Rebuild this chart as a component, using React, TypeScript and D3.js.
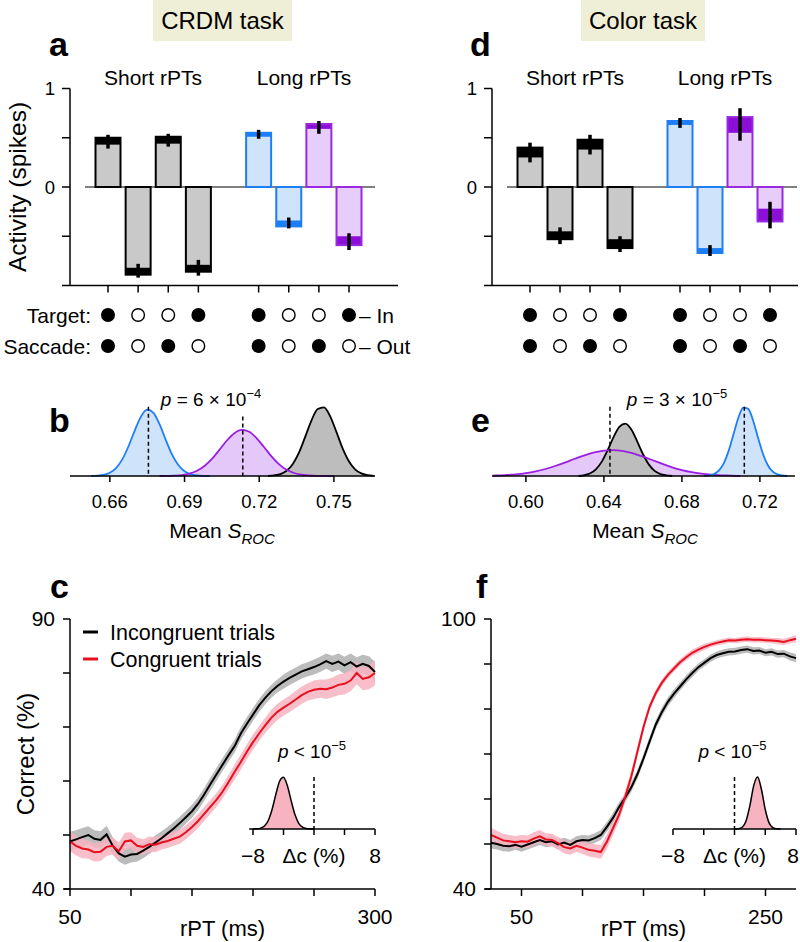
import React from 'react';
import * as d3 from 'd3';

const FONT = "'Liberation Sans', Arial, Helvetica, sans-serif";

// ---------- Panels a / d : bar data ----------
const barGroups = ['Short rPTs', 'Long rPTs'];
const slotIndex = [0, 1, 2, 3, 5, 6, 7, 8];
const barPalette = ['gray', 'gray', 'gray', 'gray', 'blue', 'blue', 'purple', 'purple'];
const targetIn = [1, 0, 0, 1, 1, 0, 0, 1];
const saccadeIn = [1, 0, 1, 0, 1, 0, 1, 0];

const crdmOuter = [0.50, -0.89, 0.51, -0.86, 0.55, -0.40, 0.64, -0.59];
const crdmInner = [0.43, -0.82, 0.44, -0.79, 0.51, -0.34, 0.59, -0.50];
const crdmErrHi = [0.53, -0.78, 0.54, -0.74, 0.58, -0.31, 0.67, -0.47];
const crdmErrLo = [0.39, -0.92, 0.41, -0.90, 0.49, -0.42, 0.54, -0.64];

const colorOuter = [0.40, -0.53, 0.48, -0.62, 0.67, -0.67, 0.71, -0.35];
const colorInner = [0.30, -0.45, 0.38, -0.53, 0.63, -0.62, 0.55, -0.22];
const colorErrHi = [0.45, -0.41, 0.53, -0.50, 0.70, -0.59, 0.80, -0.15];
const colorErrLo = [0.25, -0.58, 0.33, -0.66, 0.60, -0.70, 0.47, -0.42];

const barYTicks = [1, 0.5, 0, -0.5];
const barYTickLabels = ['1', '', '0', ''];

// ---------- Panels b / e : bootstrap distributions of mean S_ROC ----------
const bBlueX = [0.6525, 0.655, 0.6575, 0.660, 0.6625, 0.665, 0.6675, 0.670, 0.6725, 0.675, 0.6775, 0.680, 0.6825, 0.685, 0.6875, 0.690, 0.6925, 0.695, 0.6975, 0.700];
const bBlueY = [0.001, 0.005, 0.016, 0.046, 0.113, 0.237, 0.425, 0.649, 0.848, 0.947, 0.903, 0.736, 0.513, 0.304, 0.156, 0.067, 0.025, 0.008, 0.002, 0.0];
const bPurpleX = [0.680, 0.683, 0.686, 0.689, 0.692, 0.695, 0.698, 0.701, 0.704, 0.707, 0.710, 0.713, 0.716, 0.719, 0.722, 0.725, 0.728, 0.731, 0.734, 0.737, 0.740, 0.743, 0.746, 0.750];
const bPurpleY = [0.0, 0.002, 0.005, 0.014, 0.034, 0.074, 0.143, 0.244, 0.373, 0.507, 0.612, 0.659, 0.632, 0.539, 0.410, 0.277, 0.167, 0.089, 0.043, 0.018, 0.007, 0.002, 0.001, 0.0];
const bGrayX = [0.7235, 0.726, 0.7285, 0.731, 0.7335, 0.736, 0.7385, 0.741, 0.7435, 0.746, 0.7485, 0.751, 0.7535, 0.756, 0.7585, 0.761, 0.7635, 0.766];
const bGrayY = [0.0, 0.009, 0.028, 0.075, 0.172, 0.337, 0.562, 0.796, 0.957, 0.980, 0.852, 0.630, 0.395, 0.211, 0.096, 0.037, 0.012, 0.003];
const bTicks = [0.66, 0.69, 0.72, 0.75];
const bDashX = [0.6755, 0.7134];
const bDashTop = [0.99, 0.85];

const ePurpleX = [0.583, 0.585, 0.590, 0.595, 0.600, 0.605, 0.610, 0.615, 0.620, 0.625, 0.630, 0.635, 0.640, 0.645, 0.650, 0.655, 0.660, 0.665, 0.670, 0.675, 0.680, 0.685, 0.690, 0.695, 0.700, 0.705, 0.710];
const ePurpleY = [0.006, 0.007, 0.014, 0.024, 0.041, 0.066, 0.100, 0.143, 0.192, 0.246, 0.296, 0.337, 0.363, 0.370, 0.355, 0.323, 0.277, 0.225, 0.172, 0.124, 0.085, 0.055, 0.034, 0.019, 0.010, 0.006, 0.0];
const eGrayX = [0.627, 0.630, 0.633, 0.636, 0.639, 0.642, 0.645, 0.648, 0.651, 0.654, 0.657, 0.660, 0.663, 0.666, 0.669, 0.672, 0.675];
const eGrayY = [0.0, 0.013, 0.039, 0.099, 0.209, 0.374, 0.560, 0.707, 0.749, 0.667, 0.499, 0.314, 0.166, 0.074, 0.028, 0.009, 0.0];
const eBlueX = [0.6915, 0.694, 0.6965, 0.699, 0.7015, 0.704, 0.7065, 0.709, 0.7115, 0.714, 0.7165, 0.719, 0.7215, 0.724, 0.7265, 0.729, 0.7315, 0.734];
const eBlueY = [0.0, 0.009, 0.028, 0.079, 0.184, 0.363, 0.601, 0.836, 0.976, 0.959, 0.793, 0.550, 0.322, 0.157, 0.065, 0.023, 0.007, 0.0];
const eTicks = [0.60, 0.64, 0.68, 0.72];
const eDashX = [0.6431, 0.712];
const eDashTop = [0.99, 0.99];

// ---------- Panels c / f : accuracy vs rPT ----------
const rptC = d3.range(50, 301, 5);
const incongC = [48.8, 49.2, 49.6, 50.0, 49.3, 49.1, 50.1, 48.0, 46.6, 46.0, 46.4, 46.5, 47.1, 47.8, 48.6, 49.4, 50.3, 51.2, 52.2, 53.3, 54.4, 55.8, 57.5, 59.4, 61.2, 63.0, 64.8, 66.5, 68.8, 70.6, 72.3, 74.0, 75.4, 76.6, 77.6, 78.4, 79.1, 79.7, 80.3, 80.7, 81.1, 81.6, 82.2, 81.7, 82.1, 81.4, 82.0, 81.2, 81.7, 81.3, 80.2];
const congC = [48.8, 48.0, 47.5, 47.3, 46.8, 46.9, 47.8, 48.0, 47.0, 48.8, 49.0, 48.0, 47.8, 48.3, 48.2, 48.6, 48.9, 49.3, 49.7, 50.5, 51.5, 52.6, 53.9, 55.2, 56.5, 58.0, 59.8, 61.7, 63.5, 65.4, 67.2, 68.8, 70.3, 71.7, 72.8, 73.6, 74.3, 75.1, 75.9, 76.5, 76.9, 77.1, 77.0, 77.3, 77.8, 78.0, 78.6, 80.0, 78.9, 79.2, 80.0];
const incongSemC = [1.8, 1.7, 1.7, 1.6, 1.6, 1.6, 1.6, 1.6, 1.5, 1.5, 1.5, 1.4, 1.4, 1.3, 1.3, 1.3, 1.2, 1.2, 1.2, 1.2, 1.2, 1.2, 1.2, 1.2, 1.2, 1.2, 1.2, 1.2, 1.2, 1.2, 1.2, 1.2, 1.2, 1.2, 1.2, 1.3, 1.3, 1.3, 1.3, 1.3, 1.4, 1.4, 1.4, 1.5, 1.5, 1.6, 1.6, 1.7, 1.7, 1.8, 1.9];
const congSemC = [1.8, 1.8, 1.8, 1.7, 1.7, 1.7, 1.7, 1.6, 1.6, 1.6, 1.5, 1.5, 1.4, 1.4, 1.4, 1.3, 1.3, 1.3, 1.3, 1.3, 1.3, 1.3, 1.3, 1.3, 1.3, 1.3, 1.3, 1.4, 1.4, 1.4, 1.4, 1.4, 1.4, 1.5, 1.5, 1.5, 1.5, 1.6, 1.6, 1.6, 1.7, 1.7, 1.8, 1.8, 1.9, 2.0, 2.0, 2.1, 2.1, 2.2, 2.3];

const rptF = d3.range(25, 276, 5);
const incongF = [50.3, 50.0, 49.6, 49.5, 49.8, 49.4, 49.9, 50.4, 50.9, 50.4, 50.6, 49.9, 50.3, 49.8, 50.6, 50.9, 50.8, 51.3, 52.0, 53.8, 55.8, 58.2, 60.3, 62.6, 65.5, 69.0, 72.8, 76.5, 79.3, 81.6, 83.4, 85.0, 86.6, 88.0, 89.3, 90.3, 91.3, 92.0, 92.4, 92.7, 92.8, 93.1, 93.3, 92.9, 93.0, 92.5, 92.7, 92.2, 92.3, 91.7, 91.3];
const congF = [52.0, 51.4, 50.8, 50.6, 50.4, 50.6, 50.5, 51.2, 51.7, 51.0, 50.9, 50.2, 49.3, 49.0, 49.6, 49.2, 48.7, 48.5, 48.2, 50.5, 53.5, 56.5, 60.5, 65.0, 70.5, 76.0, 80.5, 83.5, 85.8, 87.6, 89.0, 90.4, 91.5, 92.5, 93.2, 93.8, 94.3, 94.7, 95.0, 95.3, 95.2, 95.4, 95.5, 95.4, 95.4, 95.3, 95.2, 95.1, 94.9, 95.3, 95.6];
const incongSemF = [1.3, 1.2, 1.2, 1.2, 1.1, 1.1, 1.1, 1.1, 1.1, 1.1, 1.1, 1.1, 1.1, 1.1, 1.1, 1.1, 1.1, 1.1, 1.1, 1.1, 1.1, 1.1, 1.0, 1.0, 1.0, 1.0, 1.0, 1.0, 1.0, 1.0, 1.0, 0.9, 0.9, 0.9, 0.8, 0.8, 0.8, 0.8, 0.8, 0.8, 0.8, 0.8, 0.8, 0.8, 0.8, 0.8, 0.8, 0.8, 0.8, 0.9, 0.9];
const congSemF = [1.6, 1.5, 1.5, 1.4, 1.4, 1.4, 1.4, 1.4, 1.4, 1.4, 1.4, 1.4, 1.4, 1.4, 1.4, 1.4, 1.5, 1.5, 1.5, 1.6, 1.5, 1.4, 1.3, 1.2, 1.1, 1.0, 0.9, 0.8, 0.8, 0.7, 0.7, 0.7, 0.7, 0.7, 0.7, 0.7, 0.6, 0.6, 0.6, 0.6, 0.6, 0.6, 0.6, 0.6, 0.6, 0.6, 0.6, 0.7, 0.7, 0.7, 0.8];

const cYTicks = [40, 50, 60, 70, 80, 90];
const fYTicks = [40, 50, 60, 70, 80, 90, 100];
const cXTicks = [50, 100, 150, 200, 250, 300];
const fXTicks = [50, 100, 150, 200, 250];

// insets: distribution of accuracy difference
const insetTicks = [-8, -4, 0, 4, 8];
const insetCX = [-8.5, -8, -7.5, -7, -6.5, -6, -5.5, -5, -4.5, -4, -3.5, -3, -2.5, -2, -1.5, -1, -0.5, 0];
const insetCY = [0.0, 0.001, 0.003, 0.015, 0.056, 0.164, 0.375, 0.667, 0.923, 0.995, 0.835, 0.546, 0.278, 0.110, 0.034, 0.008, 0.002, 0.0];
const insetFX = [0, 0.5, 1, 1.5, 2, 2.5, 3, 3.5, 4, 4.5, 5, 5.5, 6];
const insetFY = [0.0, 0.005, 0.034, 0.154, 0.448, 0.835, 0.998, 0.764, 0.375, 0.118, 0.024, 0.003, 0.0];

// ---------- Styles ----------
const PAL: Record<string, { stroke: string; cap: string; fill: string }> = {
  gray: { stroke: '#000000', cap: '#000000', fill: '#c9c9c9' },
  blue: { stroke: '#1e7ef5', cap: '#1e7ef5', fill: '#cfe4fb' },
  purple: { stroke: '#9a2ae2', cap: '#8c0fd8', fill: '#e6cdfa' },
};
const DIST = {
  blue: { stroke: '#1e7ef5', fill: '#cfe4fb' },
  purple: { stroke: '#9a1fe0', fill: '#e4c8fa' },
  gray: { stroke: '#000000', fill: '#bdbdbd' },
};
const RED = '#e8101e';
const PINK = '#f7b3bf';

const yBar = d3.scaleLinear().domain([-1, 1]).range([285.5, 88.5]);

function BarPanel(props: {
  axisX: number; firstX: number; lastX: number;
  outer: number[]; inner: number[]; errHi: number[]; errLo: number[];
  groupX: number[]; rowLabels: boolean; letter: string; letterX: number;
  title: string; titleBox: [number, number]; yLabel: boolean;
}) {
  const { axisX, firstX, lastX, outer, inner, errHi, errLo } = props;
  const xs = d3.scaleLinear().domain([0, 8]).range([firstX, lastX]);
  const bw = 25;
  const rowY = [315, 346];
  return (
    <g>
      <rect x={props.titleBox[0]} y={0} width={props.titleBox[1] - props.titleBox[0]} height={41} fill="#efeed6" />
      <text x={(props.titleBox[0] + props.titleBox[1]) / 2} y={29} textAnchor="middle" fontSize={24}>{props.title}</text>
      <text x={props.letterX} y={56} fontSize={34} fontWeight="bold">{props.letter}</text>
      {barGroups.map((g, i) => (
        <text key={g} x={props.groupX[i]} y={85} textAnchor="middle" fontSize={21}>{g}</text>
      ))}
      {props.yLabel && (
        <text transform={`translate(26, ${yBar(0)}) rotate(-90)`} textAnchor="middle" fontSize={24.5}>Activity (spikes)</text>
      )}
      {/* axes */}
      <line x1={axisX} x2={axisX} y1={yBar(1)} y2={yBar(-1)} stroke="#000" strokeWidth={1.5} />
      {barYTicks.map((t, i) => (
        <g key={t}>
          <line x1={axisX - 8} x2={axisX} y1={yBar(t)} y2={yBar(t)} stroke="#000" strokeWidth={1.5} />
          {barYTickLabels[i] && (
            <text x={axisX - 15} y={yBar(t) + 6.5} textAnchor="end" fontSize={18.5}>{barYTickLabels[i]}</text>
          )}
        </g>
      ))}
      <line x1={axisX - 8} x2={Math.min(axisX + 328, 798)} y1={yBar(-1)} y2={yBar(-1)} stroke="#000" strokeWidth={1.5} />
      {slotIndex.map((s, i) => (
        <line key={i} x1={xs(s)} x2={xs(s)} y1={yBar(-1)} y2={yBar(-1) + 7} stroke="#000" strokeWidth={1.5} />
      ))}
      <line x1={axisX + 15} x2={axisX + 305} y1={yBar(0)} y2={yBar(0)} stroke="#000" strokeWidth={1.2} />
      {/* bars */}
      {slotIndex.map((s, i) => {
        const p = PAL[barPalette[i]];
        const cx = xs(s);
        const y0 = yBar(0);
        const yo = yBar(outer[i]);
        const yi = yBar(inner[i]);
        const top = Math.min(y0, yo);
        const h = Math.abs(yo - y0);
        return (
          <g key={i}>
            <rect x={cx - bw / 2} y={top} width={bw} height={h} fill={p.cap} />
            <rect x={cx - bw / 2} y={Math.min(y0, yi)} width={bw} height={Math.abs(yi - y0)} fill={p.fill} />
            <rect x={cx - bw / 2} y={top} width={bw} height={h} fill="none" stroke={p.stroke} strokeWidth={2} />
            <line x1={cx} x2={cx} y1={yBar(errHi[i])} y2={yBar(errLo[i])} stroke="#000" strokeWidth={3.5} />
          </g>
        );
      })}
      {/* condition rows */}
      {[targetIn, saccadeIn].map((row, r) => (
        <g key={r}>
          {slotIndex.map((s, i) => (
            <circle key={i} cx={xs(s)} cy={rowY[r]} r={6.3} fill={row[i] ? '#000' : '#fff'} stroke="#000" strokeWidth={1.4} />
          ))}
        </g>
      ))}
      {props.rowLabels && (
        <g fontSize={21}>
          <text x={91} y={rowY[0] + 7.5} textAnchor="end">Target:</text>
          <text x={91} y={rowY[1] + 7.5} textAnchor="end">Saccade:</text>
          <text x={xs(8) + 10} y={rowY[0] + 7.5}>– In</text>
          <text x={xs(8) + 10} y={rowY[1] + 7.5}>– Out</text>
        </g>
      )}
    </g>
  );
}

type DistSeries = { x: number[]; y: number[]; key: 'blue' | 'purple' | 'gray' };

function DistPanel(props: {
  domain: [number, number]; range: [number, number]; ticks: number[];
  fillOrder: DistSeries[]; lineOrder: DistSeries[];
  dashX: number[]; dashTop: number[];
  pText: string; pExp: string; pX: number;
  letter: string; letterX: number; labelX: number;
}) {
  const x = d3.scaleLinear().domain(props.domain).range(props.range);
  const y = d3.scaleLinear().domain([0, 1]).range([476, 406]);
  const area = (s: DistSeries) =>
    d3.area<number>().x((_, i) => x(s.x[i])).y0(y(0)).y1((v) => y(v)).curve(d3.curveMonotoneX)(s.y) || '';
  const line = (s: DistSeries) =>
    d3.line<number>().x((_, i) => x(s.x[i])).y((v) => y(v)).curve(d3.curveMonotoneX)(s.y) || '';
  return (
    <g>
      <text x={props.letterX} y={432} fontSize={34} fontWeight="bold">{props.letter}</text>
      {props.fillOrder.map((s) => <path key={'f' + s.key} d={area(s)} fill={DIST[s.key].fill} />)}
      {props.lineOrder.map((s) => <path key={'l' + s.key} d={line(s)} fill="none" stroke={DIST[s.key].stroke} strokeWidth={1.8} />)}
      {props.dashX.map((d, i) => (
        <line key={i} x1={x(d)} x2={x(d)} y1={y(props.dashTop[i])} y2={y(0)} stroke="#000" strokeWidth={1.5} strokeDasharray="4,3" />
      ))}
      <line x1={props.range[0]} x2={props.range[1]} y1={y(0)} y2={y(0)} stroke="#000" strokeWidth={1.5} />
      {props.ticks.map((t) => (
        <g key={t}>
          <line x1={x(t)} x2={x(t)} y1={y(0)} y2={y(0) + 6} stroke="#000" strokeWidth={1.5} />
          <text x={x(t)} y={508} textAnchor="middle" fontSize={18.5}>{d3.format('.2f')(t)}</text>
        </g>
      ))}
      <text x={props.labelX} y={538} textAnchor="middle" fontSize={21}>
        Mean <tspan fontStyle="italic">S</tspan><tspan fontStyle="italic" fontSize={15} dy={6}>ROC</tspan>
      </text>
      <text x={props.pX} y={406} textAnchor="middle" fontSize={19}>
        <tspan fontStyle="italic">p</tspan> = {props.pText} × 10<tspan fontSize={13} dy={-8}>{props.pExp}</tspan>
      </text>
    </g>
  );
}

function CurvePanel(props: {
  xDomain: [number, number]; xRange: [number, number]; yDomain: [number, number];
  yTicks: number[]; xTicks: number[]; xLabelTicks: number[];
  rpt: number[]; incong: number[]; cong: number[]; incongSem: number[]; congSem: number[];
  insetRange: [number, number]; insetX: number[]; insetY: number[];
  letter: string; letterX: number; yLabel: boolean; legend: boolean;
}) {
  const x = d3.scaleLinear().domain(props.xDomain).range(props.xRange);
  const y = d3.scaleLinear().domain(props.yDomain).range([889, 619]);
  const ax = props.xRange[0];
  const band = (vals: number[], sem: number[]) =>
    d3.area<number>().x((_, i) => x(props.rpt[i])).y0((v, i) => y(v - sem[i])).y1((v, i) => y(v + sem[i])).curve(d3.curveLinear)(vals) || '';
  const line = (vals: number[]) =>
    d3.line<number>().x((_, i) => x(props.rpt[i])).y((v) => y(v)).curve(d3.curveLinear)(vals) || '';
  const ix = d3.scaleLinear().domain([-8, 8]).range(props.insetRange);
  const iy = d3.scaleLinear().domain([0, 1]).range([829, 777]);
  const iArea = d3.area<number>().x((_, i) => ix(props.insetX[i])).y0(iy(0)).y1((v) => iy(v)).curve(d3.curveMonotoneX)(props.insetY) || '';
  const iLine = d3.line<number>().x((_, i) => ix(props.insetX[i])).y((v) => iy(v)).curve(d3.curveMonotoneX)(props.insetY) || '';
  const icx = (props.insetRange[0] + props.insetRange[1]) / 2;
  return (
    <g>
      <text x={props.letterX} y={598} fontSize={34} fontWeight="bold">{props.letter}</text>
      <path d={band(props.incong, props.incongSem)} fill="#bcbcbc" />
      <path d={band(props.cong, props.congSem)} fill={PINK} opacity={0.85} />
      <path d={line(props.incong)} fill="none" stroke="#000" strokeWidth={2} />
      <path d={line(props.cong)} fill="none" stroke={RED} strokeWidth={2} />
      {/* axes */}
      <line x1={ax} x2={ax} y1={y(props.yDomain[1])} y2={889} stroke="#000" strokeWidth={1.5} />
      {props.yTicks.map((t, i) => (
        <g key={t}>
          <line x1={ax - 7} x2={ax} y1={y(t)} y2={y(t)} stroke="#000" strokeWidth={1.5} />
          {(i === 0 || i === props.yTicks.length - 1) && (
            <text x={ax - 15} y={y(t) + 7} textAnchor="end" fontSize={21}>{t}</text>
          )}
        </g>
      ))}
      <line x1={ax - 6} x2={props.xRange[1]} y1={889} y2={889} stroke="#000" strokeWidth={1.5} />
      {props.xTicks.map((t) => (
        <g key={t}>
          <line x1={x(t)} x2={x(t)} y1={889} y2={896} stroke="#000" strokeWidth={1.5} />
          {props.xLabelTicks.includes(t) && (
            <text x={x(t)} y={924} textAnchor="middle" fontSize={21}>{t}</text>
          )}
        </g>
      ))}
      <text x={(props.xRange[0] + props.xRange[1]) / 2} y={936} textAnchor="middle" fontSize={22}>rPT (ms)</text>
      {props.yLabel && (
        <text transform={`translate(34, 754) rotate(-90)`} textAnchor="middle" fontSize={24}>Correct (%)</text>
      )}
      {props.legend && (
        <g fontSize={21.5}>
          <line x1={83} x2={98} y1={632} y2={632} stroke="#000" strokeWidth={3} />
          <text x={110} y={640}>Incongruent trials</text>
          <line x1={83} x2={98} y1={659} y2={659} stroke={RED} strokeWidth={3} />
          <text x={110} y={667}>Congruent trials</text>
        </g>
      )}
      {/* inset */}
      <path d={iArea} fill={PINK} />
      <path d={iLine} fill="none" stroke="#000" strokeWidth={1.5} />
      <line x1={ix(0)} x2={ix(0)} y1={777} y2={829} stroke="#000" strokeWidth={1.5} strokeDasharray="4,3" />
      <line x1={props.insetRange[0]} x2={props.insetRange[1]} y1={829} y2={829} stroke="#000" strokeWidth={1.5} />
      {insetTicks.map((t) => (
        <line key={t} x1={ix(t)} x2={ix(t)} y1={829} y2={835} stroke="#000" strokeWidth={1.5} />
      ))}
      <text x={ix(-8)} y={863} textAnchor="middle" fontSize={21}>−8</text>
      <text x={Math.min(ix(8), 793)} y={863} textAnchor="middle" fontSize={21}>8</text>
      <text x={icx} y={863} textAnchor="middle" fontSize={21}>Δc (%)</text>
      <text x={icx - 2} y={758} textAnchor="middle" fontSize={19}>
        <tspan fontStyle="italic">p</tspan> &lt; 10<tspan fontSize={13} dy={-8}>−5</tspan>
      </text>
    </g>
  );
}

export default function App() {
  const bBlue: DistSeries = { x: bBlueX, y: bBlueY, key: 'blue' };
  const bPurple: DistSeries = { x: bPurpleX, y: bPurpleY, key: 'purple' };
  const bGray: DistSeries = { x: bGrayX, y: bGrayY, key: 'gray' };
  const eBlue: DistSeries = { x: eBlueX, y: eBlueY, key: 'blue' };
  const ePurple: DistSeries = { x: ePurpleX, y: ePurpleY, key: 'purple' };
  const eGray: DistSeries = { x: eGrayX, y: eGrayY, key: 'gray' };
  return (
    <svg width={800} height={942} style={{ position: 'absolute', left: 0, top: 0, background: '#fff' }}
      fontFamily={FONT} fill="#000">
      <rect width={800} height={942} fill="#fff" />
      <BarPanel axisX={70} firstX={108} lastX={349} outer={crdmOuter} inner={crdmInner} errHi={crdmErrHi} errLo={crdmErrLo}
        groupX={[153, 304]} rowLabels letter="a" letterX={49} title="CRDM task" titleBox={[153, 292]} yLabel />
      <BarPanel axisX={492} firstX={530} lastX={770} outer={colorOuter} inner={colorInner} errHi={colorErrHi} errLo={colorErrLo}
        groupX={[575, 725]} rowLabels={false} letter="d" letterX={470} title="Color task" titleBox={[581, 705]} yLabel={false} />
      <DistPanel domain={[0.644, 0.7665]} range={[70, 375]} ticks={bTicks}
        fillOrder={[bBlue, bPurple, bGray]} lineOrder={[bBlue, bGray, bPurple]}
        dashX={bDashX} dashTop={bDashTop} pText="6" pExp="−4" pX={211}
        letter="b" letterX={49} labelX={222} />
      <DistPanel domain={[0.5826, 0.738]} range={[492, 795]} ticks={eTicks}
        fillOrder={[ePurple, eGray, eBlue]} lineOrder={[eGray, ePurple, eBlue]}
        dashX={eDashX} dashTop={eDashTop} pText="3" pExp="−5" pX={677}
        letter="e" letterX={471} labelX={645} />
      <CurvePanel xDomain={[50, 300]} xRange={[70, 375]} yDomain={[40, 90]} yTicks={cYTicks}
        xTicks={cXTicks} xLabelTicks={[50, 300]} rpt={rptC} incong={incongC} cong={congC}
        incongSem={incongSemC} congSem={congSemC} insetRange={[253, 375]} insetX={insetCX} insetY={insetCY}
        letter="c" letterX={50} yLabel legend />
      <CurvePanel xDomain={[25, 275]} xRange={[491, 796]} yDomain={[40, 100]} yTicks={fYTicks}
        xTicks={fXTicks} xLabelTicks={[50, 250]} rpt={rptF} incong={incongF} cong={congF}
        incongSem={incongSemF} congSem={congSemF} insetRange={[673, 796]} insetX={insetFX} insetY={insetFY}
        letter="f" letterX={476} yLabel={false} legend={false} />
    </svg>
  );
}
